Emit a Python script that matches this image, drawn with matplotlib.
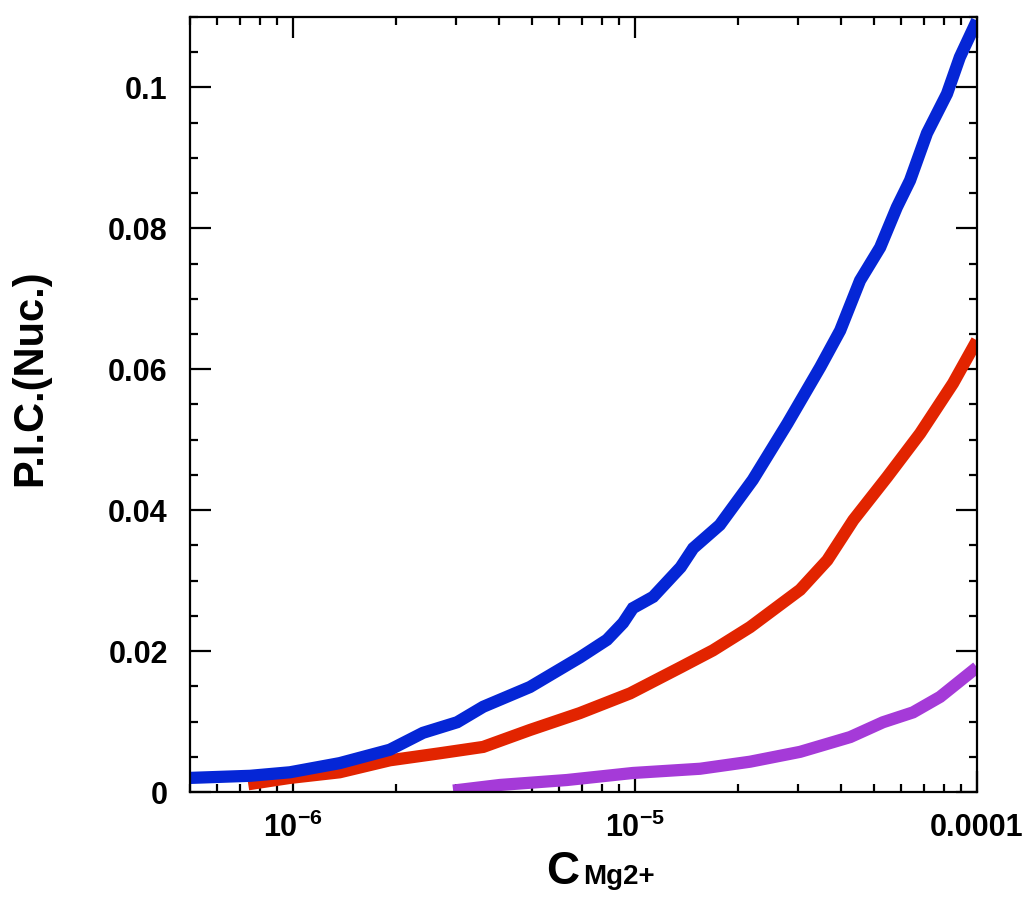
import matplotlib
matplotlib.use("Agg")
import matplotlib.pyplot as plt
from matplotlib.ticker import FixedLocator, LogLocator, MultipleLocator, FuncFormatter, NullFormatter

plt.rcParams['font.family'] = ['Liberation Sans', 'DejaVu Sans']
plt.rcParams['mathtext.fontset'] = 'custom'
plt.rcParams['mathtext.rm'] = 'Liberation Sans:bold'
plt.rcParams['mathtext.bf'] = 'Liberation Sans:bold'

# Mg2+ concentration vs P.I.C. for the three runs
conc_blue = [5.0e-7, 7.5e-7, 9.8e-7, 1.37e-6, 1.92e-6, 2.40e-6, 3.02e-6, 3.60e-6,
             4.93e-6, 6.90e-6, 8.28e-6, 9.23e-6, 9.86e-6, 1.13e-5, 1.36e-5, 1.48e-5,
             1.77e-5, 2.21e-5, 2.79e-5, 3.48e-5, 3.98e-5, 4.55e-5, 5.21e-5, 5.83e-5,
             6.37e-5, 7.14e-5, 8.17e-5, 8.91e-5, 1.0e-4]
pic_blue = [0.0020, 0.0023, 0.0028, 0.0041, 0.0060, 0.0084, 0.0099, 0.0121,
            0.0149, 0.0191, 0.0216, 0.0240, 0.0261, 0.0277, 0.0319, 0.0346,
            0.0379, 0.0443, 0.0523, 0.0603, 0.0655, 0.0726, 0.0773, 0.0830,
            0.0868, 0.0935, 0.0991, 0.1043, 0.1095]

conc_red = [7.4e-7, 9.8e-7, 1.37e-6, 1.92e-6, 2.69e-6, 3.60e-6, 4.93e-6, 6.90e-6,
            9.68e-6, 1.36e-5, 1.69e-5, 2.17e-5, 3.04e-5, 3.65e-5, 4.35e-5, 5.46e-5,
            6.82e-5, 8.51e-5, 1.0e-4]
pic_red = [0.0011, 0.0020, 0.0028, 0.0045, 0.0055, 0.0064, 0.0088, 0.0112,
           0.0140, 0.0177, 0.0201, 0.0234, 0.0287, 0.0329, 0.0386, 0.0447,
           0.0509, 0.0580, 0.0641]

conc_purple = [2.94e-6, 4.03e-6, 6.32e-6, 9.86e-6, 1.55e-5, 2.17e-5, 3.04e-5,
               4.26e-5, 5.31e-5, 6.50e-5, 7.80e-5, 1.0e-4]
pic_purple = [0.0002, 0.0010, 0.0017, 0.0027, 0.0033, 0.0043, 0.0057,
              0.0078, 0.0099, 0.0113, 0.0135, 0.0177]

x_major = [1e-6, 1e-5, 1e-4]
x_labels = [r'$10^{-6}$', r'$10^{-5}$', '0.0001']
y_major = [0, 0.02, 0.04, 0.06, 0.08, 0.1]
y_labels = ['0', '0.02', '0.04', '0.06', '0.08', '0.1']

fig = plt.figure(figsize=(10.29, 8.98), dpi=100)
ax = fig.add_axes([190 / 1029, 106 / 898, 787 / 1029, 775 / 898])

lw = 8.8
ax.plot(conc_purple, pic_purple, color='#a53ad8', lw=lw, solid_capstyle='butt', solid_joinstyle='miter')
ax.plot(conc_red, pic_red, color='#e22400', lw=lw, solid_capstyle='butt', solid_joinstyle='miter')
ax.plot(conc_blue, pic_blue, color='#0526d6', lw=lw, solid_capstyle='butt', solid_joinstyle='miter')

ax.set_xscale('log')
ax.set_xlim(5e-7, 1e-4)
ax.set_ylim(0, 0.11)

ax.xaxis.set_major_locator(FixedLocator(x_major))
ax.xaxis.set_major_formatter(FuncFormatter(lambda v, p: x_labels[x_major.index(min(x_major, key=lambda t: abs(t - v)))]))
ax.xaxis.set_minor_locator(LogLocator(base=10, subs=range(2, 10)))
ax.xaxis.set_minor_formatter(NullFormatter())

ax.yaxis.set_major_locator(FixedLocator(y_major))
ax.set_yticklabels(y_labels)
ax.yaxis.set_minor_locator(MultipleLocator(0.005))

for s in ax.spines.values():
    s.set_linewidth(1.6)

ax.tick_params(which='both', direction='in', top=True, right=True, width=1.6)
ax.tick_params(which='major', length=15)
ax.tick_params(which='minor', length=5.5)
ax.tick_params(axis='y', which='major', pad=16, labelsize=22)
ax.tick_params(axis='x', which='major', pad=15, labelsize=22)
for lab in ax.get_yticklabels() + ax.get_xticklabels():
    lab.set_fontweight('bold')

ax.set_ylabel('P.I.C.(Nuc.)', fontsize=30, fontweight='bold')
ax.yaxis.set_label_coords(-0.178, 0.534)

# x label: large C with the Mg2+ part set smaller on the same baseline
fig.text(546 / 1029, 1 - 884 / 898, 'C', fontsize=33, fontweight='bold', va='baseline')
fig.text(583 / 1029, 1 - 884 / 898, 'Mg2+', fontsize=20, fontweight='bold', va='baseline')

fig.savefig('out.png', dpi=100)
